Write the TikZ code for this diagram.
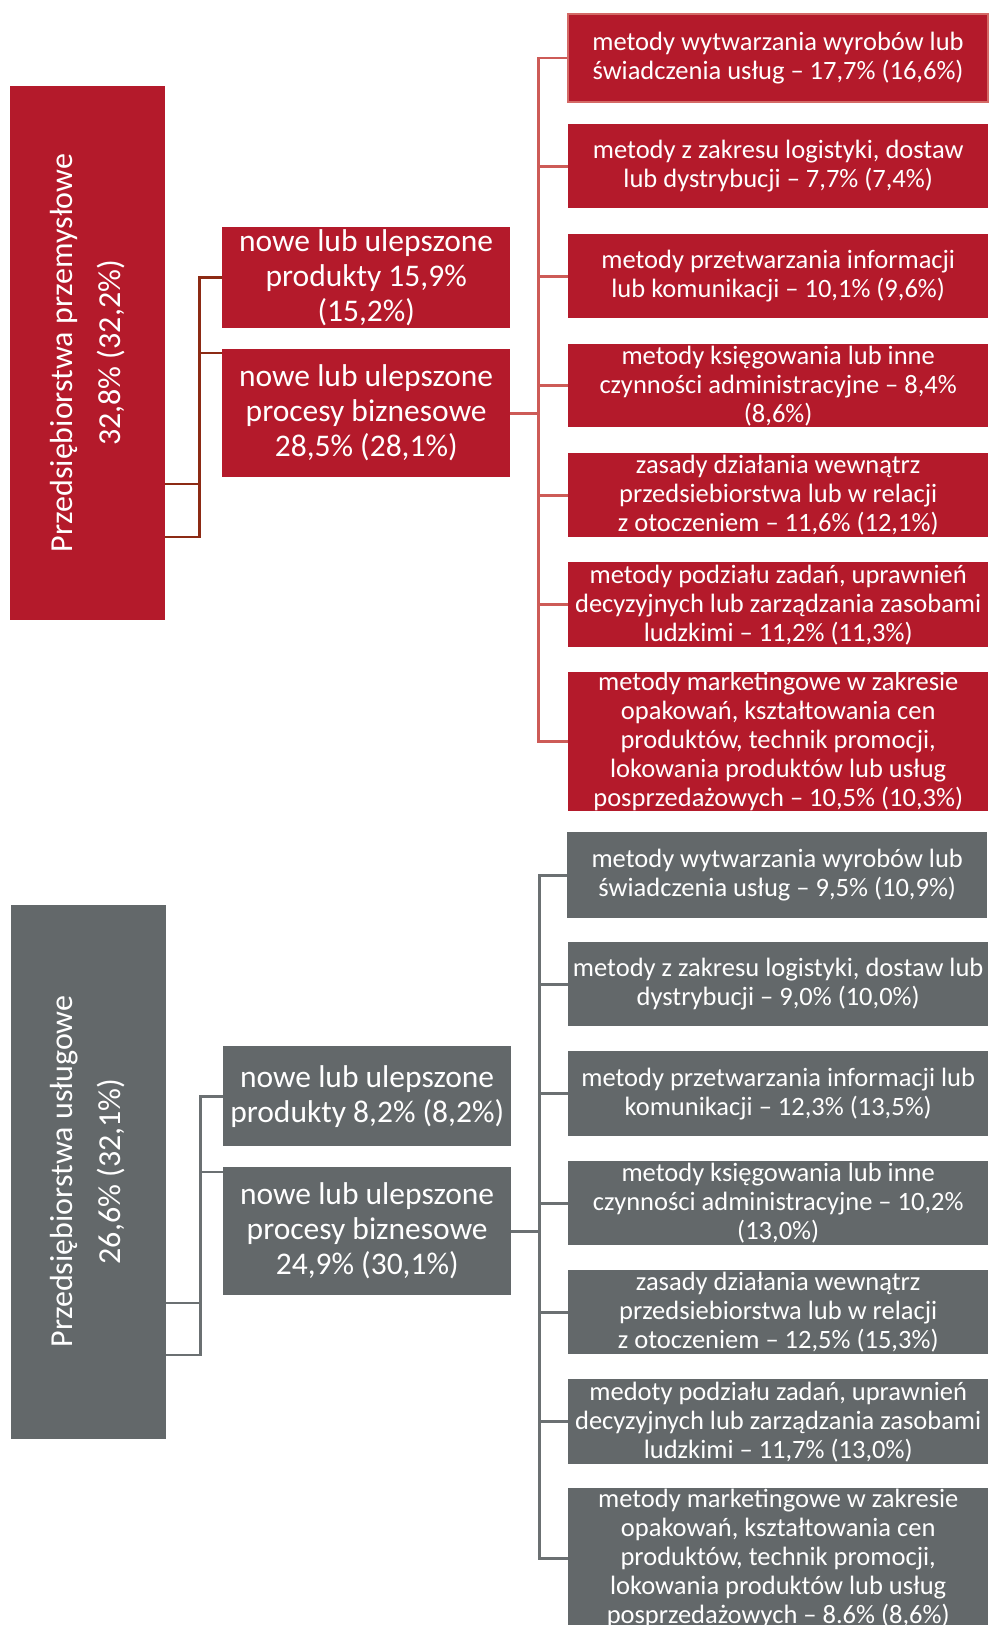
\documentclass[tikz,border=0pt]{standalone}
\usepackage{fontspec}
\setmainfont{Carlito}
\usetikzlibrary{positioning, calc}
\definecolor{indred}{HTML}{B41A2B}
\definecolor{indredline}{HTML}{CD5B57}
\definecolor{indreddark}{HTML}{8C2A14}
\definecolor{indrededge}{HTML}{D46A66}
\definecolor{servgray}{HTML}{63686A}
\definecolor{servgrayline}{HTML}{6B7072}

\begin{document}
\begin{tikzpicture}[
    x=1pt, y=-1pt,
    catbox/.style={rectangle, fill=#1, text=white, rotate=90,
                minimum width=534pt, minimum height=155pt, inner sep=0pt,
                align=center, font=\fontsize{32}{48}\selectfont},
    midbox/.style={rectangle, fill=#1, text=white, anchor=north west,
                minimum width=288pt, inner sep=0pt, align=center,
                font=\fontsize{31.5}{35}\selectfont},
    methbox/.style={rectangle, fill=#1, text=white, anchor=north west,
                minimum width=420pt, inner sep=0pt, align=center,
                font=\fontsize{26.5}{29}\selectfont},
    link/.style={line width=2.7pt, color=#1}
]
\path[use as bounding box, clip] (0,0) rectangle (989,1625);

% przemyslowe
\node[catbox=indred] (ind) at (87.5,353) {Przedsiębiorstwa przemysłowe\\32,8\% (32,2\%)};
\node[midbox=indred, minimum height=101pt] (indprod) at (222,227) {nowe lub ulepszone\\produkty 15,9\%\\(15,2\%)};
\node[midbox=indred, minimum height=128pt] (indproc) at (222,349) {nowe lub ulepszone\\procesy biznesowe\\28,5\% (28,1\%)};

\node[methbox=indred, draw=indrededge, line width=2pt, minimum width=420pt, minimum height=88pt] (ir1) at (567,13) {metody wytwarzania wyrobów lub\\świadczenia usług – 17,7\% (16,6\%)};
\node[methbox=indred, minimum height=84pt] (ir2) at (568,124) {metody z zakresu logistyki, dostaw\\lub dystrybucji – 7,7\% (7,4\%)};
\node[methbox=indred, minimum height=84pt] (ir3) at (568,234) {metody przetwarzania informacji\\lub komunikacji – 10,1\% (9,6\%)};
\node[methbox=indred, minimum height=83pt] (ir4) at (568,344) {metody księgowania lub inne\\czynności administracyjne – 8,4\%\\(8,6\%)};
\node[methbox=indred, minimum height=84pt] (ir5) at (568,453) {zasady działania wewnątrz\\przedsiebiorstwa lub w relacji\\z otoczeniem – 11,6\% (12,1\%)};
\node[methbox=indred, minimum height=85pt] (ir6) at (568,562) {metody podziału zadań, uprawnień\\decyzyjnych lub zarządzania zasobami\\ludzkimi – 11,2\% (11,3\%)};
\node[methbox=indred, minimum height=139pt] (ir7) at (568,672) {metody marketingowe w zakresie\\opakowań, kształtowania cen\\produktów, technik promocji,\\lokowania produktów lub usług\\posprzedażowych – 10,5\% (10,3\%)};

\draw[link=indreddark] (ind.south |- 0,484) -- ++(34,0) |- (indprod.west);
\draw[link=indreddark] (ind.south |- 0,537) -- ++(34,0) |- ($(indproc.north west)+(0,4)$);
\foreach \i in {1,...,7}
    \draw[link=indredline] (indproc.east) -- ++(28,0) |- (ir\i.west);

% uslugowe
\node[catbox=servgray] (serv) at (88,1171.5) {Przedsiębiorstwa usługowe\\26,6\% (32,1\%)};
\node[midbox=servgray, minimum height=100pt] (servprod) at (223,1046) {nowe lub ulepszone\\produkty 8,2\% (8,2\%)};
\node[midbox=servgray, minimum height=128pt] (servproc) at (223,1167) {nowe lub ulepszone\\procesy biznesowe\\24,9\% (30,1\%)};

\node[methbox=servgray, minimum height=86pt] (sr1) at (567,832) {metody wytwarzania wyrobów lub\\świadczenia usług – 9,5\% (10,9\%)};
\node[methbox=servgray, minimum height=84pt] (sr2) at (568,942) {metody z zakresu logistyki, dostaw lub\\dystrybucji – 9,0\% (10,0\%)};
\node[methbox=servgray, minimum height=85pt] (sr3) at (568,1051) {metody przetwarzania informacji lub\\komunikacji – 12,3\% (13,5\%)};
\node[methbox=servgray, minimum height=84pt] (sr4) at (568,1161) {metody księgowania lub inne\\czynności administracyjne – 10,2\%\\(13,0\%)};
\node[methbox=servgray, minimum height=84pt] (sr5) at (568,1270) {zasady działania wewnątrz\\przedsiebiorstwa lub w relacji\\z otoczeniem – 12,5\% (15,3\%)};
\node[methbox=servgray, minimum height=85pt] (sr6) at (568,1379) {medoty podziału zadań, uprawnień\\decyzyjnych lub zarządzania zasobami\\ludzkimi – 11,7\% (13,0\%)};
\node[methbox=servgray, minimum height=140pt] (sr7) at (568,1488) {metody marketingowe w zakresie\\opakowań, kształtowania cen\\produktów, technik promocji,\\lokowania produktów lub usług\\posprzedażowych – 8.6\% (8,6\%)};

\draw[link=servgrayline] (serv.south |- 0,1303) -- ++(35,0) |- (servprod.west);
\draw[link=servgrayline] (serv.south |- 0,1355) -- ++(35,0) |- ($(servproc.north west)+(0,5)$);
\foreach \i in {1,...,7}
    \draw[link=servgrayline] (servproc.east) -- ++(28,0) |- (sr\i.west);

\end{tikzpicture}
\end{document}
